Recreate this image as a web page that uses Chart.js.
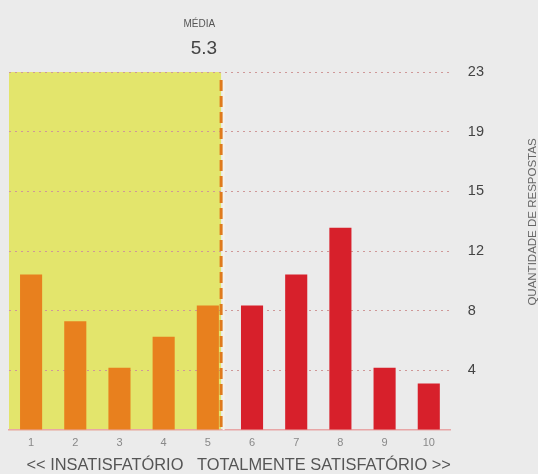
<!DOCTYPE html>
<html>
<head>
<meta charset="utf-8">
<script src="https://cdn.jsdelivr.net/npm/chart.js@4"></script>
<style>
  html, body { margin: 0; padding: 0; background: #ebebeb; }
  #wrap { width: 538px; height: 474px; }
</style>
</head>
<body>
<div id="wrap"><canvas id="satisfacaoChart" width="538" height="474"></canvas></div>
<script>
// Dados
const categorias = ['1', '2', '3', '4', '5', '6', '7', '8', '9', '10'];
const respostas = [10, 7, 4, 6, 8, 8, 10, 13, 4, 3];
const yTickLabels = ['4', '8', '12', '15', '19', '23'];
const yMax = 23;
const media = 5.3;

const laranja = '#e8801e';
const vermelho = '#d7202b';

// Faixa amarela, linha da média e textos extras
const mediaPlugin = {
    id: 'mediaPlugin',
    beforeDraw(chart) {
        const { ctx, chartArea, scales } = chart;
        const xm = scales.x.getPixelForValue(media - 1);
        ctx.save();
        ctx.fillStyle = '#e3e56c';
        ctx.fillRect(chartArea.left, chartArea.top, xm - chartArea.left, chartArea.bottom - chartArea.top);
        ctx.restore();
    },
    afterDatasetsDraw(chart) {
        const { ctx, chartArea, scales } = chart;
        const xm = scales.x.getPixelForValue(media - 1);
        ctx.save();
        ctx.strokeStyle = '#f6f2ea';
        ctx.lineWidth = 2;
        ctx.beginPath();
        ctx.moveTo(xm + 2.5, chartArea.top + 8);
        ctx.lineTo(xm + 2.5, chartArea.bottom);
        ctx.stroke();
        ctx.strokeStyle = '#e07a1c';
        ctx.lineWidth = 3;
        ctx.setLineDash([11, 5]);
        ctx.beginPath();
        ctx.moveTo(xm, chartArea.top + 8);
        ctx.lineTo(xm, chartArea.bottom);
        ctx.stroke();
        ctx.setLineDash([]);

        ctx.textAlign = 'right';
        ctx.fillStyle = '#555';
        ctx.font = '10px "Liberation Sans", Arial, sans-serif';
        ctx.fillText('MÉDIA', xm - 6, 27);
        ctx.fillStyle = '#444';
        ctx.font = '19px "Liberation Sans", Arial, sans-serif';
        ctx.fillText(String(media), xm - 4, 54);

        // título do eixo Y (de baixo para cima)
        ctx.translate(533, 222);
        ctx.rotate(-Math.PI / 2);
        ctx.textAlign = 'center';
        ctx.textBaseline = 'middle';
        ctx.fillStyle = '#666';
        ctx.font = '11.5px "Liberation Sans", Arial, sans-serif';
        ctx.fillText('QUANTIDADE DE RESPOSTAS', 0, 0);
        ctx.restore();
    }
};

const ctx = document.getElementById('satisfacaoChart').getContext('2d');
const satisfacaoChart = new Chart(ctx, {
    type: 'bar',
    data: {
        labels: categorias,
        datasets: [{
            data: respostas,
            backgroundColor: (c) => (c.index + 1 < media ? laranja : vermelho),
            barPercentage: 0.5,
            categoryPercentage: 1.0
        }]
    },
    options: {
        responsive: false,
        animation: false,
        layout: { padding: { top: 72, left: 9, right: 37, bottom: 0 } },
        plugins: {
            legend: { display: false },
            tooltip: { enabled: false }
        },
        scales: {
            x: {
                grid: { display: false, drawTicks: false },
                border: { display: true, color: '#e8a6a6', width: 1.5 },
                ticks: {
                    color: '#888',
                    padding: 6,
                    font: { family: '"Liberation Sans", Arial, sans-serif', size: 11 }
                },
                title: {
                    display: true,
                    text: '<< INSATISFATÓRIO   TOTALMENTE SATISFATÓRIO >>',
                    align: 'end',
                    color: '#555',
                    padding: { top: 0, bottom: -1 },
                    font: { family: '"Liberation Sans", Arial, sans-serif', size: 16.4 }
                }
            },
            y: {
                position: 'right',
                min: 0,
                max: yMax,
                afterBuildTicks(scale) {
                    scale.ticks = [{ value: 0 }].concat(yTickLabels.map((t, i) => ({ value: yMax * (i + 1) / yTickLabels.length })));
                },
                grid: {
                    drawTicks: false,
                    color: (c) => (c.tick && c.tick.value === 0 ? 'rgba(0,0,0,0)' : '#cf9898'),
                    lineWidth: 1
                },
                border: { display: false, dash: [2, 4] },
                ticks: {
                    color: '#444',
                    padding: 17,
                    font: { family: '"Liberation Sans", Arial, sans-serif', size: 14.5 },
                    callback: (v, i) => (i === 0 ? '' : yTickLabels[i - 1])
                }
            }
        }
    },
    plugins: [mediaPlugin]
});
</script>
</body>
</html>
